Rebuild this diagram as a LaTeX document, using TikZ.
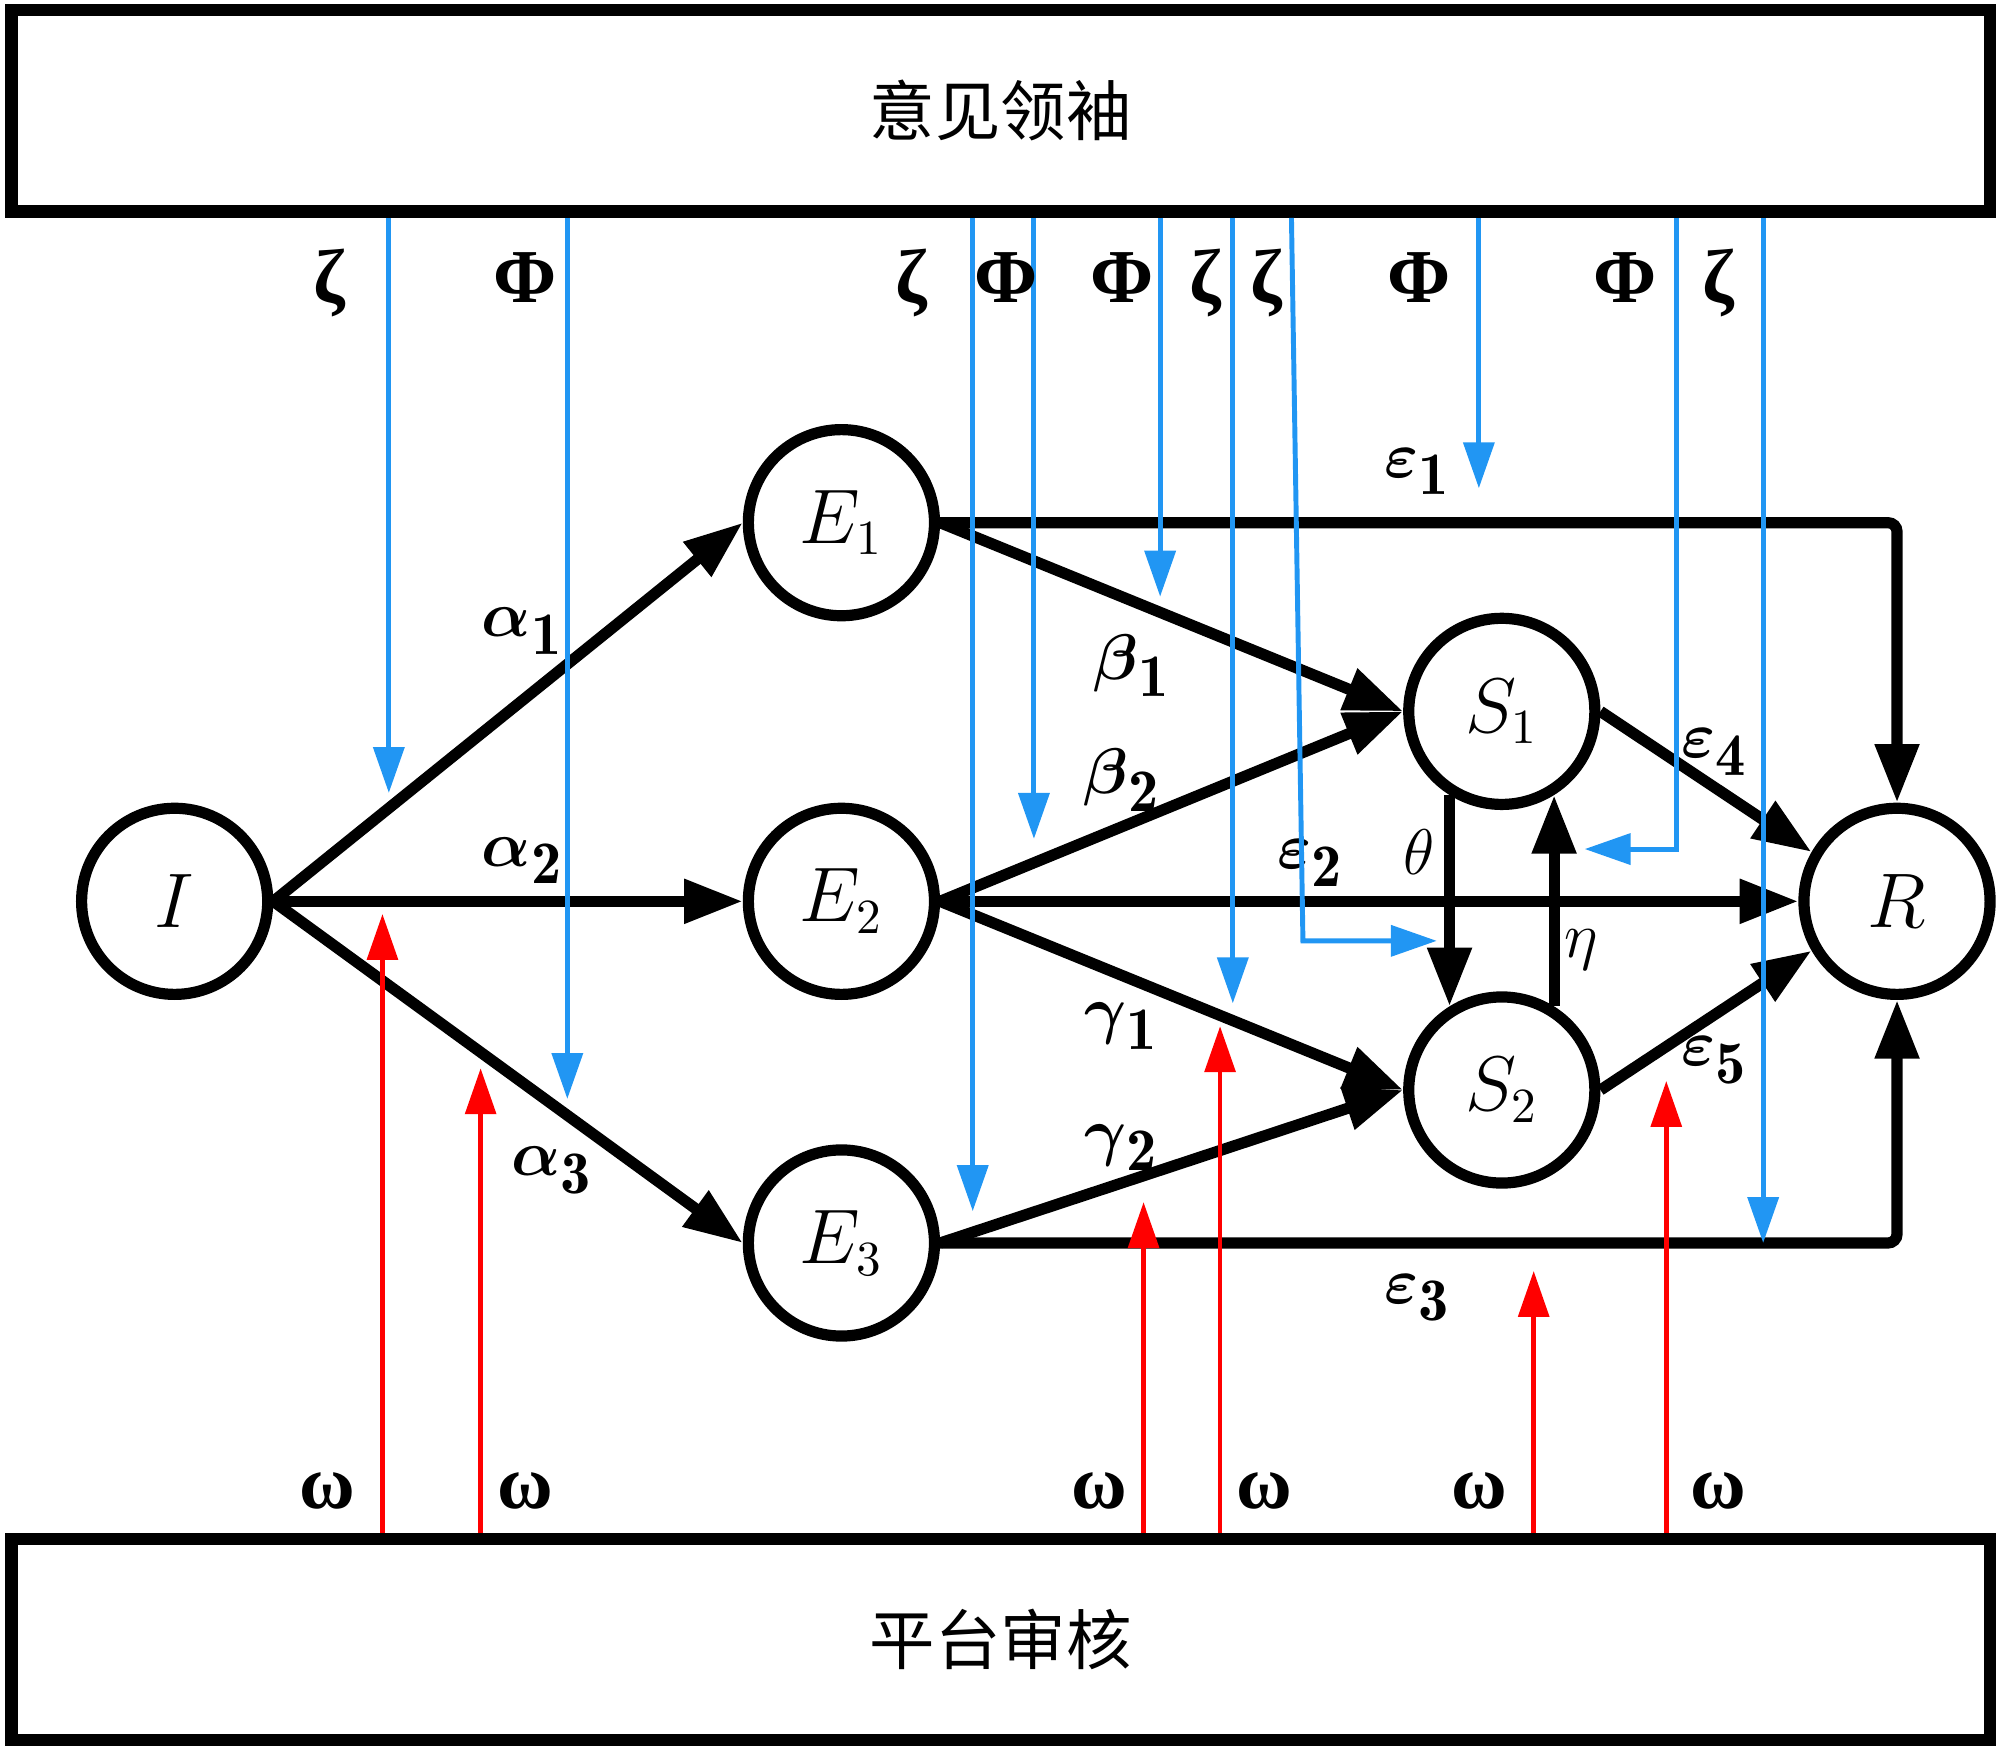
\documentclass[tikz,border=0pt]{standalone}
\usepackage{amsmath}
\usepackage{fontspec}
\newfontfamily\cjkfont{Noto Sans CJK SC}
\newfontfamily\grkfont{Liberation Serif}
\usetikzlibrary{arrows.meta}
\definecolor{leadblue}{RGB}{33,150,243}
\definecolor{auditred}{RGB}{255,0,0}
\newcommand{\lbl}[2]{$\boldsymbol{#1}_{\textstyle\mathbf{#2}}$}
\begin{document}
\begin{tikzpicture}[
  state/.style={circle,draw,line width=2.5pt,minimum size=1.46cm,inner sep=0pt,font=\fontsize{16}{19}\selectfont},
  flow/.style={line width=2.5pt,-{Triangle[length=4.6mm,width=3.3mm]}},
  opinion/.style={line width=1.1pt,leadblue,-{Triangle[length=3.6mm,width=2.4mm]}},
  review/.style={line width=1pt,auditred,-{Triangle[length=3.6mm,width=2.4mm]}},
  panel/.style={draw,line width=2.8pt,minimum width=15.52cm,minimum height=1.58cm,inner sep=0pt,font=\cjkfont\fontsize{14.6}{17}\selectfont},
  rate/.style={font=\fontsize{13.5}{16}\selectfont},
  src/.style={anchor=base,font=\grkfont\bfseries\fontsize{17}{20}\selectfont}]
\useasboundingbox (0,0) rectangle (15.68,13.71);
\node[panel] (leader) at (7.85,12.84) {意见领袖};
\node[panel] (audit) at (7.85,0.85) {平台审核};
\node[state] (I) at (1.37,6.64) {$I$};
\node[state] (E1) at (6.60,9.61) {$E_1$};
\node[state] (E2) at (6.60,6.64) {$E_2$};
\node[state] (E3) at (6.60,3.96) {$E_3$};
\node[state] (S1) at (11.78,8.13) {$S_1$};
\node[state] (S2) at (11.78,5.16) {$S_2$};
\node[state] (R) at (14.88,6.64) {$R$};
\draw[flow] (I.east) -- (E1.west);
\draw[flow] (I.east) -- (E2.west);
\draw[flow] (I.east) -- (E3.west);
\draw[flow] (E1.east) -- (S1.west);
\draw[flow] (E2.east) -- (S1.west);
\draw[flow] (E2.east) -- (S2.west);
\draw[flow] (E3.east) -- (S2.west);
\draw[flow,rounded corners=2pt] (E1.east) -| (R.north);
\draw[flow] (E2.east) -- (R.west);
\draw[flow,rounded corners=2pt] (E3.east) -| (R.south);
\draw[flow] (S1.east) -- (R.150);
\draw[flow] (S2.east) -- (R.210);
\draw[flow] (S1.238) -- (S2.122);
\draw[flow] (S2.58) -- (S1.302);
\node[rate] (a1) at (4.10,8.76) {\lbl{\alpha}{1}};
\node[rate] (a2) at (4.10,6.96) {\lbl{\alpha}{2}};
\node[rate] (a3) at (4.33,4.53) {\lbl{\alpha}{3}};
\node[rate] (b1) at (8.88,8.49) {\lbl{\beta}{1}};
\node[rate] (b2) at (8.80,7.59) {\lbl{\beta}{2}};
\node[rate] (c1) at (8.80,5.66) {\lbl{\gamma}{1}};
\node[rate] (c2) at (8.80,4.71) {\lbl{\gamma}{2}};
\node[rate] (e1) at (11.12,10.01) {\lbl{\varepsilon}{1}};
\node[rate] (e2) at (10.28,6.94) {\lbl{\varepsilon}{2}};
\node[rate] (e3) at (11.12,3.53) {\lbl{\varepsilon}{3}};
\node[rate] (e4) at (13.45,7.81) {\lbl{\varepsilon}{4}};
\node[rate] (e5) at (13.45,5.39) {\lbl{\varepsilon}{5}};
\node[rate] (th) at (11.13,7.03) {$\theta$};
\node[rate] (et) at (12.40,6.26) {$\eta$};
\foreach \x/\y [count=\i] in {3.05/7.49,4.45/5.09,7.63/4.21,8.11/7.13,9.10/9.03,9.67/5.84,11.60/9.88,13.83/3.96} {
  \coordinate (z\i) at (\x,\y);
  \draw[opinion] (z\i |- leader.south) -- (z\i);
}
\coordinate (zs) at (11.27,6.33);
\coordinate (zr) at (12.43,7.05);
\draw[opinion] ([xshift=2.28cm]leader.south) -- (10.22,6.33) -- (zs);
\draw[opinion] ([xshift=5.30cm]leader.south) |- (zr);
\foreach \x/\y [count=\i] in {3.00/6.54,3.77/5.33,8.97/4.28,9.57/5.66,12.03/3.74,13.07/5.23} {
  \coordinate (w\i) at (\x,\y);
  \draw[review] (w\i |- audit.north) -- (w\i);
}
\foreach \x/\t [count=\i] in {2.58/ζ,4.12/Φ,7.15/ζ,7.89/Φ,8.80/Φ,9.45/ζ,9.93/ζ,11.13/Φ,12.75/Φ,13.48/ζ}
  \node[src] (g\i) at (\x,11.34) {\t};
\foreach \x [count=\i] in {2.57,4.12,8.62,9.92,11.60,13.48}
  \node[src] (o\i) at (\x,1.88) {ω};
\end{tikzpicture}
\end{document}
